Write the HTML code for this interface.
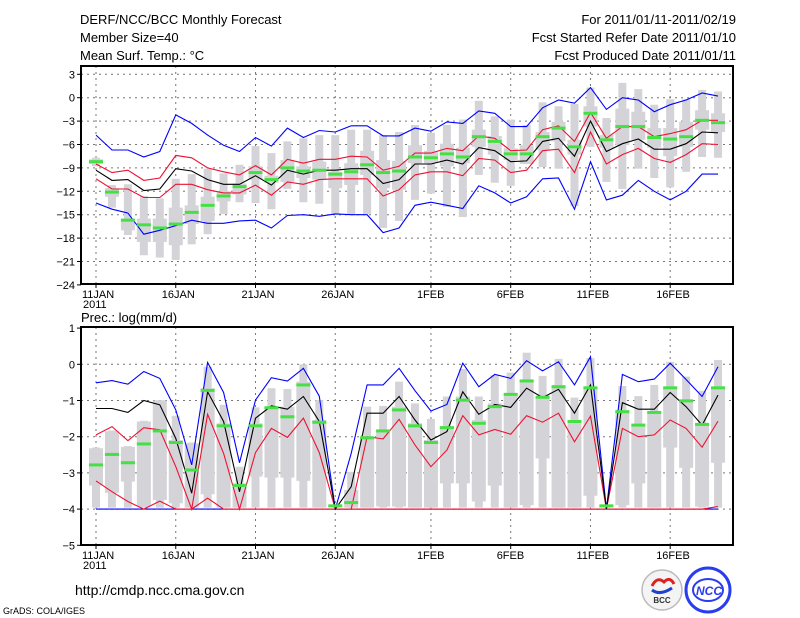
<!DOCTYPE html>
<html><head><meta charset="utf-8"><style>
html,body{margin:0;padding:0;background:#fff;}
svg{display:block;font-family:"Liberation Sans",sans-serif;}
</style></head><body>
<svg id="chart" width="800" height="618" viewBox="0 0 800 618" xmlns="http://www.w3.org/2000/svg">
<g font-size="13" fill="#000">
<text x="80" y="24">DERF/NCC/BCC Monthly Forecast</text>
<text x="80" y="42">Member Size=40</text>
<text x="80" y="60">Mean Surf. Temp.: °C</text>
<text x="736" y="24" text-anchor="end">For 2011/01/11-2011/02/19</text>
<text x="736" y="42" text-anchor="end">Fcst Started Refer Date 2011/01/10</text>
<text x="736" y="60" text-anchor="end">Fcst Produced Date 2011/01/11</text>
<text x="81" y="322">Prec.: log(mm/d)</text>
<text x="75" y="595" font-size="14">http://cmdp.ncc.cma.gov.cn</text>
<text x="3" y="614" font-size="9">GrADS: COLA/IGES</text>
</g>
<g>
<circle cx="662" cy="590" r="20" fill="#f4f4f4" stroke="#bbb" stroke-width="1.5"/>
<path d="M652 586 q5 -10 12 -4 q6 -6 10 2" fill="none" stroke="#e02020" stroke-width="3"/>
<path d="M652 590 q8 6 20 -2" fill="none" stroke="#2040d0" stroke-width="3"/>
<text x="662" y="603" font-size="8" font-weight="bold" text-anchor="middle" fill="#333">BCC</text>
</g>
<g>
<circle cx="708" cy="590" r="22" fill="#fff" stroke="#2a3cf0" stroke-width="3"/>
<ellipse cx="708" cy="590" rx="15" ry="11" fill="none" stroke="#2a3cf0" stroke-width="2"/>
<text x="709" y="595" font-size="12" font-weight="bold" font-style="italic" text-anchor="middle" fill="#2a3cf0">NCC</text>
</g>
<g id="top"></g>
<g id="bot"></g>
</svg>
<script>
// ---- Temperature panel data (°C), days from 11 Jan ----
const dayLabels = ["11JAN","16JAN","21JAN","26JAN","1FEB","6FEB","11FEB","16FEB"];
const dayLabelIdx = [0,5,10,15,21,26,31,36];
const tTicks = [3,0,-3,-6,-9,-12,-15,-18,-21,-24];
const tBlueHi = [-4.8,-6.7,-6.7,-7.6,-6.9,-2.2,-3.3,-4.8,-6.1,-6.9,-5.1,-6.2,-3.9,-5.1,-4.2,-4.4,-3.6,-3.6,-4.9,-4.9,-3.9,-4.3,-3.1,-3.3,-1.7,-2.0,-3.7,-3.7,-1.3,-0.3,-0.7,1.3,-1.5,0.0,-0.3,-1.8,-0.9,-0.3,0.6,0.2];
const tBlueLo = [-13.5,-14.3,-14.8,-17.5,-17.0,-16.4,-15.7,-16.1,-16.1,-15.8,-15.7,-16.7,-15.1,-15.0,-15.2,-14.9,-15.0,-15.0,-17.3,-16.7,-13.8,-13.4,-13.8,-14.2,-11.3,-12.2,-13.5,-12.7,-10.4,-10.3,-14.3,-8.2,-13.1,-12.5,-10.6,-12.0,-13.1,-12.0,-9.8,-9.8];
const tRedHi = [-8.5,-9.6,-9.3,-10.6,-10.3,-7.4,-7.7,-9.0,-9.5,-9.9,-8.7,-9.9,-7.9,-8.4,-7.9,-7.9,-7.5,-7.6,-9.3,-8.8,-7.1,-7.1,-6.5,-6.8,-4.9,-5.2,-6.8,-6.7,-4.1,-3.6,-5.6,-1.9,-5.2,-3.7,-3.7,-5.0,-4.6,-4.1,-2.9,-2.9];
const tMean = [-9.3,-10.6,-10.5,-11.9,-11.7,-9.1,-9.4,-10.5,-11.1,-11.1,-10.0,-11.2,-9.3,-9.8,-9.3,-9.3,-9.1,-9.1,-11.0,-10.5,-8.5,-8.5,-8.0,-8.5,-6.4,-6.8,-8.2,-8.1,-5.6,-5.2,-7.5,-3.0,-6.9,-5.9,-5.3,-6.6,-6.6,-5.9,-4.4,-4.5];
const tRedLo = [-10.4,-11.7,-11.7,-12.8,-12.8,-11.1,-11.1,-11.8,-12.2,-12.2,-11.2,-12.5,-10.8,-11.1,-10.5,-10.4,-10.4,-10.4,-12.6,-11.8,-9.9,-9.5,-9.5,-10.0,-7.8,-8.0,-9.6,-9.3,-6.8,-6.6,-9.6,-4.4,-8.5,-7.3,-6.5,-7.8,-8.3,-7.3,-5.9,-6.0];
const tMedian = [-8.2,-12.1,-15.7,-16.3,-16.7,-16.2,-14.7,-13.8,-12.6,-11.4,-9.6,-10.5,-9.0,-9.4,-9.3,-9.8,-9.5,-8.6,-9.6,-9.4,-7.6,-7.7,-7.2,-7.6,-5.0,-5.6,-7.2,-7.2,-5.0,-3.9,-6.3,-2.0,-5.4,-3.7,-3.7,-5.1,-5.3,-5.0,-2.9,-3.2];
const tMax = [-7.7,-11.2,-11.1,-12.6,-12.9,-10.4,-9.8,-9.1,-9.7,-8.6,-6.2,-7.1,-5.6,-5.2,-4.8,-4.8,-4.1,-4.1,-4.8,-4.4,-3.5,-4.5,-3.5,-2.8,-0.4,-2.4,-2.8,-3.5,-0.6,-1.1,-0.8,1.3,-2.6,1.9,1.1,-0.9,-0.2,-0.2,1.0,0.8];
const tMin = [-8.8,-14.1,-17.6,-20.2,-20.5,-20.8,-18.8,-17.5,-14.9,-13.4,-13.5,-14.3,-11.7,-13.4,-13.6,-14.9,-15.0,-14.9,-16.7,-15.8,-13.1,-12.3,-14.0,-15.3,-9.9,-10.9,-11.3,-8.4,-8.9,-9.1,-13.9,-6.3,-10.8,-11.7,-9.1,-10.3,-11.5,-9.5,-7.6,-7.7];
const tQ3 = [-7.9,-11.6,-15.5,-15.5,-15.5,-14.1,-13.8,-12.7,-12.0,-11.0,-8.8,-10.0,-8.0,-8.8,-8.2,-9.5,-8.4,-6.8,-8.0,-8.1,-6.1,-6.8,-5.9,-6.4,-4.1,-4.9,-6.5,-6.1,-4.4,-3.1,-5.4,-1.1,-4.8,-1.4,-1.8,-3.9,-3.9,-3.1,-1.6,-2.0];
const tQ1 = [-8.5,-12.7,-17.0,-18.5,-18.5,-18.9,-16.2,-15.8,-13.3,-12.4,-10.5,-10.9,-10.8,-10.3,-10.5,-11.6,-11.2,-9.9,-11.6,-11.8,-8.4,-8.4,-8.8,-8.4,-6.3,-7.3,-8.0,-8.5,-6.7,-5.6,-7.3,-3.7,-6.4,-6.1,-5.4,-6.4,-7.5,-6.3,-4.1,-4.4];

// ---- Precipitation panel data (log mm/d) ----
const pTicks = [1,0,-1,-2,-3,-4,-5];
const pBlueHi = [-0.51,-0.45,-0.55,-0.20,-0.39,-1.26,-2.78,0.05,-0.78,-2.72,-0.99,-0.37,-0.46,-0.11,-0.88,-4.0,-2.46,-0.57,-0.57,-0.11,-0.73,-1.29,-1.11,0.03,-0.62,-0.28,-0.39,0.10,-0.18,0.07,-0.57,0.21,-4.0,-0.28,-0.48,-0.41,0.03,-0.42,-0.89,-0.07];
const pMean = [-1.22,-1.22,-1.33,-1.00,-1.12,-2.05,-3.56,-0.76,-1.58,-3.52,-1.49,-1.15,-1.24,-0.89,-1.58,-4.0,-3.38,-1.35,-1.35,-0.89,-1.54,-2.09,-1.86,-0.76,-1.38,-1.11,-1.19,-0.66,-0.92,-0.69,-1.35,-0.57,-4.0,-1.06,-1.24,-1.24,-0.78,-1.17,-1.68,-0.85];
const pRedHi = [-1.95,-1.72,-2.11,-1.75,-1.81,-2.83,-4.0,-1.38,-2.46,-4.0,-2.44,-1.77,-2.02,-1.49,-2.44,-4.0,-4.0,-2.00,-2.06,-1.52,-2.23,-2.83,-2.37,-1.42,-1.95,-1.80,-1.93,-1.42,-1.60,-1.35,-2.14,-1.43,-4.0,-1.77,-2.00,-1.95,-1.54,-1.77,-2.29,-1.57];
const pRedLo = [-3.22,-3.52,-3.79,-4.0,-3.78,-4.0,-4.0,-3.70,-4.0,-4.0,-4.0,-4.0,-4.0,-4.0,-4.0,-4.0,-4.0,-4.0,-4.0,-4.0,-4.0,-4.0,-4.0,-4.0,-4.0,-4.0,-4.0,-4.0,-4.0,-4.0,-4.0,-4.0,-4.0,-4.0,-4.0,-4.0,-4.0,-4.0,-4.0,-3.93];
const pBlueLo = [-4,-4,-4,-4,-4,-4,-4,-4,-4,-4,-4,-4,-4,-4,-4,-4,-4,-4,-4,-4,-4,-4,-4,-4,-4,-4,-4,-4,-4,-4,-4,-4,-4,-4,-4,-4,-4,-4,-4,-4];
const pMedian = [-2.78,-2.49,-2.72,-2.20,-1.84,-2.16,-2.92,-0.72,-1.70,-3.35,-1.70,-1.20,-1.45,-0.57,-1.60,-3.91,-3.82,-2.03,-1.84,-1.26,-1.70,-2.16,-1.75,-0.99,-1.63,-1.17,-0.83,-0.46,-0.91,-0.62,-1.58,-0.65,-3.91,-1.31,-1.68,-1.33,-0.65,-1.01,-1.66,-0.65];
const pMax = [-2.30,-1.83,-2.26,-1.56,-0.99,-1.42,-2.16,-0.07,-1.12,-2.83,-1.19,-0.66,-0.68,0.00,-0.99,-3.89,-2.97,-1.17,-1.15,-0.48,-1.08,-1.51,-0.89,-0.13,-0.89,-0.30,-0.23,0.32,-0.32,0.15,-0.92,0.17,-3.89,-0.60,-0.88,-0.57,0.07,-0.34,-0.73,0.12];
const pQ3 = [-2.32,-1.85,-2.28,-1.58,-1.00,-2.09,-2.18,-0.66,-1.63,-3.29,-1.63,-1.17,-1.17,-0.48,-1.54,-3.90,-3.47,-2.00,-1.86,-1.17,-1.63,-2.09,-1.72,-0.89,-1.54,-1.08,-0.85,-0.43,-0.89,-0.62,-1.54,-0.62,-3.90,-1.26,-1.68,-1.31,-0.62,-0.99,-1.68,-0.62];
const pQ1 = [-3.35,-3.55,-3.24,-3.93,-3.75,-3.84,-3.96,-3.59,-3.96,-3.96,-3.10,-3.13,-3.13,-3.22,-3.96,-3.95,-3.96,-3.96,-3.93,-3.93,-3.96,-3.96,-3.29,-3.29,-3.79,-3.35,-3.96,-3.89,-2.60,-3.96,-3.96,-3.63,-3.95,-3.89,-3.29,-3.96,-2.30,-2.86,-3.93,-2.72];
const pMin = [-3.96,-3.96,-3.96,-3.96,-3.96,-3.96,-3.96,-3.96,-3.96,-3.96,-3.96,-3.96,-3.96,-3.96,-3.96,-3.96,-3.96,-3.96,-3.96,-3.96,-3.96,-3.96,-3.96,-3.96,-3.96,-3.96,-3.96,-3.96,-3.96,-3.96,-3.96,-3.96,-3.96,-3.96,-3.96,-3.96,-3.96,-3.96,-3.96,-3.96];

const NS = "http://www.w3.org/2000/svg";
function mk(tag, attrs, parent){ const e=document.createElementNS(NS,tag); for(const k in attrs) e.setAttribute(k,attrs[k]); parent.appendChild(e); return e; }
const X0 = 81, X1 = 733;
function xDay(i){ return 96 + i*15.95; }

function panel(g, cfg){
  const y = v => cfg.yTop + (cfg.vTop - v) * cfg.k;
  // grid
  cfg.ticks.forEach(t=>{
    const yy=y(t);
    if (yy>cfg.boxTop+2 && yy<cfg.boxBot-2){
      const l=mk("line",{x1:X0,x2:X1,y1:yy,y2:yy,stroke:"#777","stroke-dasharray":"2,4","stroke-width":1},g);
      
      
    }
    const tk=mk("line",{x1:X0-4,x2:X0,y1:yy,y2:yy,stroke:"#000"},g);
    
    
    const tx=mk("text",{x:X0-6,y:yy+4,"text-anchor":"end","font-size":11},g);
    tx.textContent = (t<0?"\u2212"+(-t):String(t));
    
    
  });
  dayLabelIdx.forEach((d,j)=>{
    const xx=xDay(d);
    const l=mk("line",{x1:xx,x2:xx,y1:cfg.boxTop,y2:cfg.boxBot,stroke:"#777","stroke-dasharray":"2,4"},g);
    
    
    const tk=mk("line",{x1:xx,x2:xx,y1:cfg.boxBot,y2:cfg.boxBot+4,stroke:"#000"},g);
    
    
    const tx=mk("text",{x:xx-14,y:cfg.boxBot+14,"font-size":11},g);
    tx.textContent=dayLabels[j];
    
    
  });
  const yr=mk("text",{x:83,y:cfg.boxBot+24,"font-size":11},g);
  yr.textContent="2011";
  
  
  // boxes
  cfg.mx.forEach((v,i)=>{
    const xx=xDay(i);
    const w=mk("rect",{x:xx-4,y:y(v),width:8,height:Math.max(1,y(cfg.mn[i])-y(v)),fill:"#d4d4d8"},g);
    
    
    const b=mk("rect",{x:xx-7,y:y(cfg.q3[i]),width:14,height:Math.max(1,y(cfg.q1[i])-y(cfg.q3[i])),fill:"#d4d4d8"},g);
    
    
  });
  cfg.lines.forEach(([arr,col,nm])=>{
    const p=mk("polyline",{points:arr.map((v,i)=>xDay(i).toFixed(1)+","+y(v).toFixed(1)).join(" "),fill:"none",stroke:col,"stroke-width":1.1},g);
    
    
  });
  cfg.md.forEach((v,i)=>{
    const r=mk("rect",{x:xDay(i)-7,y:y(v)-1.5,width:14,height:3,fill:"#44e044"},g);
    
    
  });
  const fr=mk("rect",{x:X0,y:cfg.boxTop,width:X1-X0,height:cfg.boxBot-cfg.boxTop,fill:"none",stroke:"#000","stroke-width":2},g);
  
  
}
const gt=document.getElementById('top');


panel(gt,{yTop:97.7,vTop:0,k:7.8,boxTop:66,boxBot:284,ticks:tTicks,mx:tMax,mn:tMin,q3:tQ3,q1:tQ1,md:tMedian,
  lines:[[tBlueHi,"#0000ff","blue-upper-line"],[tBlueLo,"#0000ff","blue-lower-line"],[tRedHi,"#ee1133","red-upper-line"],[tRedLo,"#ee1133","red-lower-line"],[tMean,"#000","ensemble-mean-line"]]});
const gb=document.getElementById('bot');


panel(gb,{yTop:364.3,vTop:0,k:36.2,boxTop:327,boxBot:545,ticks:pTicks,mx:pMax,mn:pMin,q3:pQ3,q1:pQ1,md:pMedian,
  lines:[[pBlueLo,"#0000ff","blue-lower-line"],[pRedLo,"#ee1133","red-lower-line"],[pBlueHi,"#0000ff","blue-upper-line"],[pRedHi,"#ee1133","red-upper-line"],[pMean,"#000","ensemble-mean-line"]]});
</script>
</body></html>
